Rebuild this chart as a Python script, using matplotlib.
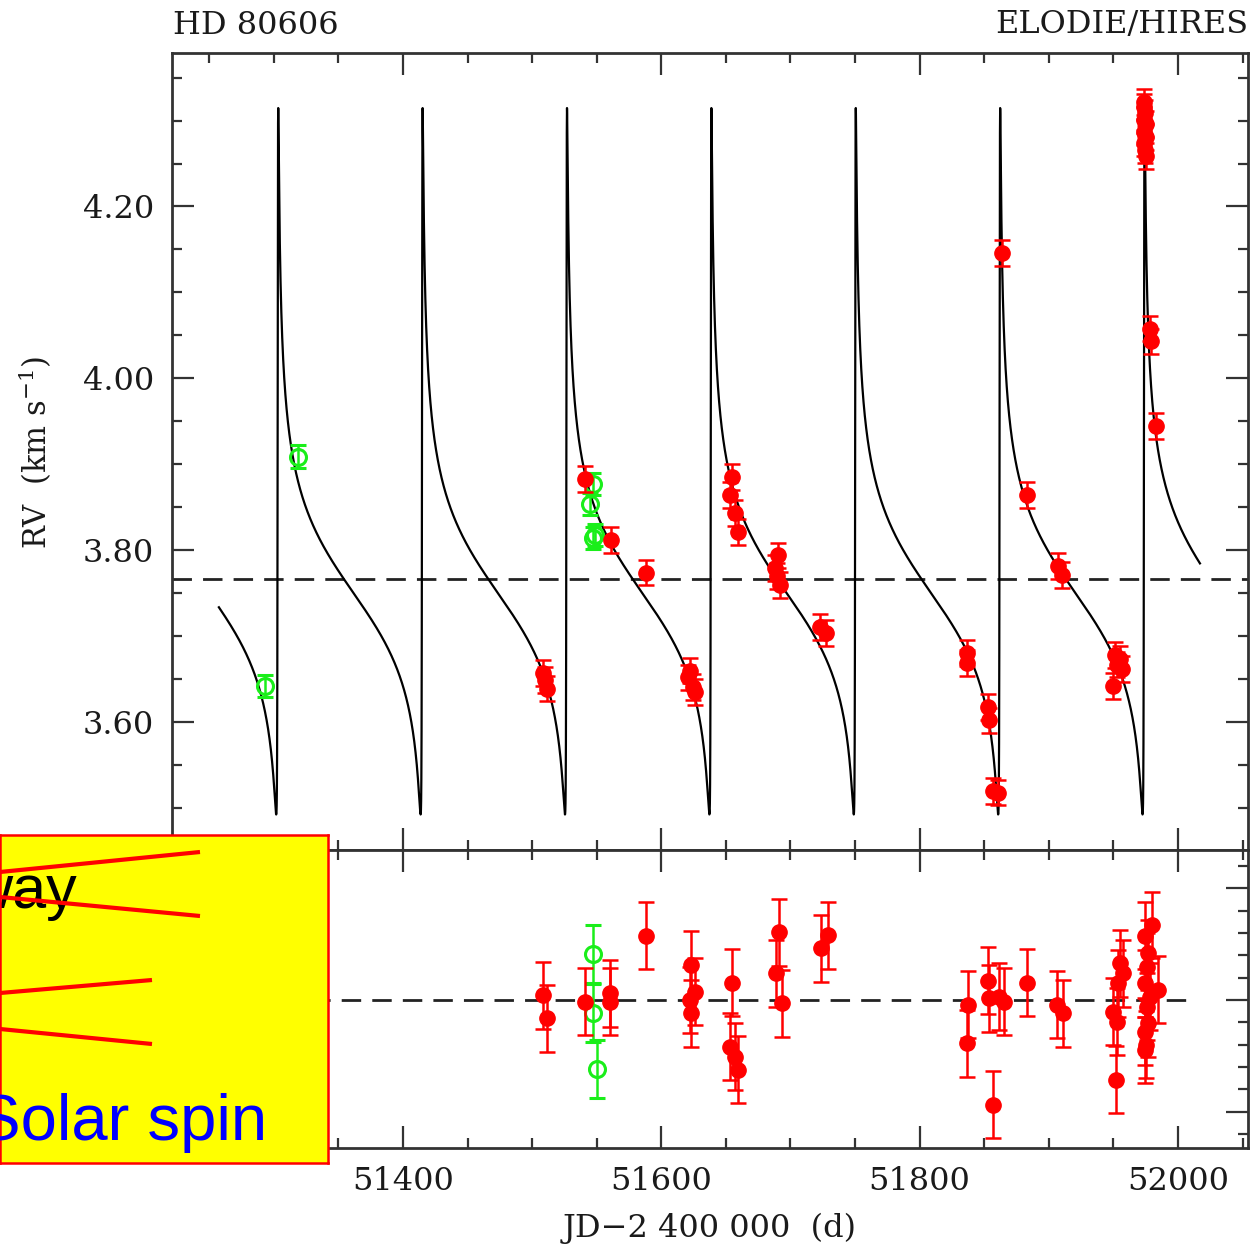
import numpy as np
import matplotlib
matplotlib.use('Agg')
import matplotlib.pyplot as plt
from matplotlib.ticker import MultipleLocator

plt.rcParams['font.family'] = 'DejaVu Serif'
plt.rcParams['mathtext.fontset'] = 'dejavuserif'

# orbital solution (solid line)
P = 111.78
ecc = 0.927
omega_deg = 291.0
K = 0.411
T0 = 51973.72
gamma = 3.767
t_fit_start, t_fit_end = 51257.5, 52017.0

# ELODIE velocities (red, filled)
t_red = [51508.4, 51510.0, 51511.5, 51540.9, 51561.0, 51588.0,
         51620.6, 51622.2, 51624.5, 51626.0, 51653.2, 51654.7, 51657.0, 51659.4,
         51688.0, 51689.5, 51690.3, 51691.9, 51722.8, 51727.5,
         51836.4, 51836.9, 51853.2, 51854.0, 51857.1, 51861.0, 51864.1,
         51883.3, 51907.3, 51909.9, 51949.9, 51951.2, 51952.4, 51955.0, 51956.3,
         51973.3, 51973.9, 51974.6, 51973.8, 51975.0, 51974.0, 51975.3, 51973.5,
         51974.3, 51975.6, 51978.3, 51978.8, 51983.0]
rv_red = [3.657, 3.649, 3.639, 3.883, 3.812, 3.774,
          3.652, 3.660, 3.641, 3.635, 3.864, 3.885, 3.843, 3.821,
          3.779, 3.770, 3.794, 3.760, 3.711, 3.704,
          3.680, 3.669, 3.618, 3.602, 3.520, 3.518, 4.146,
          3.864, 3.782, 3.771, 3.642, 3.678, 3.667, 3.673, 3.662,
          4.322, 4.316, 4.309, 4.301, 4.296, 4.287, 4.281, 4.274,
          4.266, 4.259, 4.058, 4.043, 3.945]

# HIRES velocities (green, open)
t_green = [51293.2, 51318.7, 51547.0, 51544.8, 51548.6, 51547.0]
rv_green = [3.642, 3.909, 3.877, 3.854, 3.818, 3.814]

# residuals (km/s)
t_red_res = [51508.6, 51511.2, 51540.9, 51560.3, 51560.3, 51587.9,
             51622.7, 51626.1, 51622.2, 51622.7, 51654.9, 51653.2, 51657.0, 51659.6,
             51691.4, 51688.8, 51693.2, 51723.4, 51729.0,
             51837.6, 51836.4, 51853.2, 51854.0, 51861.7, 51865.3, 51857.0,
             51883.3, 51906.5, 51910.7,
             51950.0, 51953.0, 51951.8, 51955.1, 51957.6, 51953.8,
             51974.4, 51979.6, 51977.0, 51975.7, 51974.4, 51978.3, 51975.7,
             51977.0, 51974.4, 51975.2, 51974.4, 51984.7]
res_red = [0.0022, -0.0082, -0.0008, 0.0030, -0.0008, 0.0288,
           0.0157, 0.0037, 0.0000, -0.0060, 0.0078, -0.0209, -0.0254, -0.0313,
           0.0303, 0.0119, -0.0015, 0.0231, 0.0291,
           -0.0022, -0.0194, 0.0087, 0.0007, 0.0015, -0.0007, -0.0470,
           0.0078, -0.0022, -0.0060,
           -0.0052, -0.0097, -0.0358, 0.0164, 0.0119, 0.0075,
           0.0287, 0.0336, 0.0209, 0.0149, 0.0075, 0.0015, -0.0030,
           -0.0104, -0.0142, -0.0201, -0.0224, 0.0045]
t_green_res = [51293.2, 51318.7, 51546.9, 51546.9, 51549.9]
res_green = [0.0010, -0.0040, 0.0206, -0.0060, -0.0309]

rv_err = 0.015
green_err = 0.013

# overlay annotation (figure pixel coordinates inside the yellow box)
box_lines = [((0, 200), (872, 852)), ((0, 200), (897, 916)),
             ((0, 152), (993, 980)), ((0, 152), (1029, 1044))]

# Keplerian model
t_fit = np.linspace(t_fit_start, t_fit_end, 200000)
M = 2 * np.pi * (t_fit - T0) / P
M = (M + np.pi) % (2 * np.pi) - np.pi
E = M + 0.85 * ecc * np.sign(np.sin(M))
for _ in range(40):
    E = E - (E - ecc * np.sin(E) - M) / (1 - ecc * np.cos(E))
nu = 2 * np.arctan2(np.sqrt(1 + ecc) * np.sin(E / 2), np.sqrt(1 - ecc) * np.cos(E / 2))
w = np.radians(omega_deg)
rv_fit = gamma + K * (np.cos(nu + w) + ecc * np.cos(w))

W, H = 1253, 1248
fig = plt.figure(figsize=(W / 100, H / 100), dpi=100)
ax1 = fig.add_axes([172 / W, 1 - 850 / H, (1248 - 172) / W, (850 - 53) / H])
ax2 = fig.add_axes([172 / W, 1 - 1148 / H, (1248 - 172) / W, (1148 - 850) / H])

axis_col = '#333333'
txt_col = '#1a1a1a'
red = '#ff0000'
green = '#1aee1a'

ax1.plot(t_fit, rv_fit, color='black', lw=1.6, zorder=2)
ax1.axhline(gamma, color='#222222', lw=2, dashes=(7, 4), zorder=1)
ax1.errorbar(t_red, rv_red, yerr=rv_err, fmt='o', color=red, ms=11,
             capsize=6, elinewidth=1.8, capthick=1.8, zorder=4)
ax1.errorbar(t_green, rv_green, yerr=green_err, fmt='o', color=green, mfc='none',
             mec=green, mew=2.2, ms=11.5, capsize=6, elinewidth=1.8, capthick=1.8, zorder=3)

ax2.plot([t_fit_start, 52010], [0, 0], color='#222222', lw=2, dashes=(7, 4), zorder=1)
ax2.errorbar(t_red_res, res_red, yerr=rv_err, fmt='o', color=red, ms=11,
             capsize=6, elinewidth=1.8, capthick=1.8, zorder=4)
ax2.errorbar(t_green_res, res_green, yerr=green_err, fmt='o', color=green, mfc='none',
             mec=green, mew=2.2, ms=11.5, capsize=6, elinewidth=1.8, capthick=1.8, zorder=3)

ax1.set_ylim(3.4512, 4.3786)
ax2.set_ylim(-0.0663, 0.0672)
for ax in (ax1, ax2):
    ax.set_xlim(51221.2, 52054.2)
    ax.xaxis.set_major_locator(MultipleLocator(200))
    ax.xaxis.set_minor_locator(MultipleLocator(50))
    ax.tick_params(which='both', direction='in', top=True, right=True,
                   color=axis_col, width=1.6, labelsize=23, labelcolor=txt_col, pad=13)
    ax.tick_params(which='major', length=16)
    ax.tick_params(which='minor', length=7.5)
    for s in ax.spines.values():
        s.set_color(axis_col)
        s.set_linewidth(2.0)

ax1.yaxis.set_major_locator(MultipleLocator(0.2))
ax1.yaxis.set_minor_locator(MultipleLocator(0.05))
ax1.yaxis.set_major_formatter(plt.FormatStrFormatter('%.2f'))
ax1.tick_params(labelbottom=False)

ax2.yaxis.set_major_locator(MultipleLocator(0.05))
ax2.yaxis.set_minor_locator(MultipleLocator(0.01))
ax2.tick_params(labelleft=False)

fig.text(173 / W, 1 - 25 / H, 'HD 80606', fontsize=23, ha='left', va='center', color=txt_col)
fig.text(1248 / W, 1 - 25 / H, 'ELODIE/HIRES', fontsize=23, ha='right', va='center', color=txt_col)
fig.text(35 / W, 1 - 452 / H, 'RV  (km s$^{-1}$)', fontsize=22, rotation=90,
         ha='center', va='center', color=txt_col)
fig.text(710 / W, 1 - 1228 / H, 'JD\u22122 400 000  (d)', fontsize=23,
         ha='center', va='center', color=txt_col)

# yellow overlay box
bx = fig.add_axes([0, 1 - 1163 / H, 328 / W, 328 / H], zorder=10)
bx.set_facecolor('#ffff00')
bx.set_xlim(0, 328)
bx.set_ylim(1163, 835)
bx.set_xticks([])
bx.set_yticks([])
for s in bx.spines.values():
    s.set_color(red)
    s.set_linewidth(1.8)
for xs, ys in box_lines:
    bx.plot(xs, ys, color=red, lw=3, solid_capstyle='butt')
bx.text(77, 908, 'way', fontsize=44, family='Liberation Sans', color='black',
        ha='right', va='baseline', clip_on=True, zorder=1)
bx.text(267, 1140, 'Solar spin', fontsize=47, family='Liberation Sans', color='#0000ff',
        ha='right', va='baseline', clip_on=True)

fig.savefig('out.png', dpi=100)
